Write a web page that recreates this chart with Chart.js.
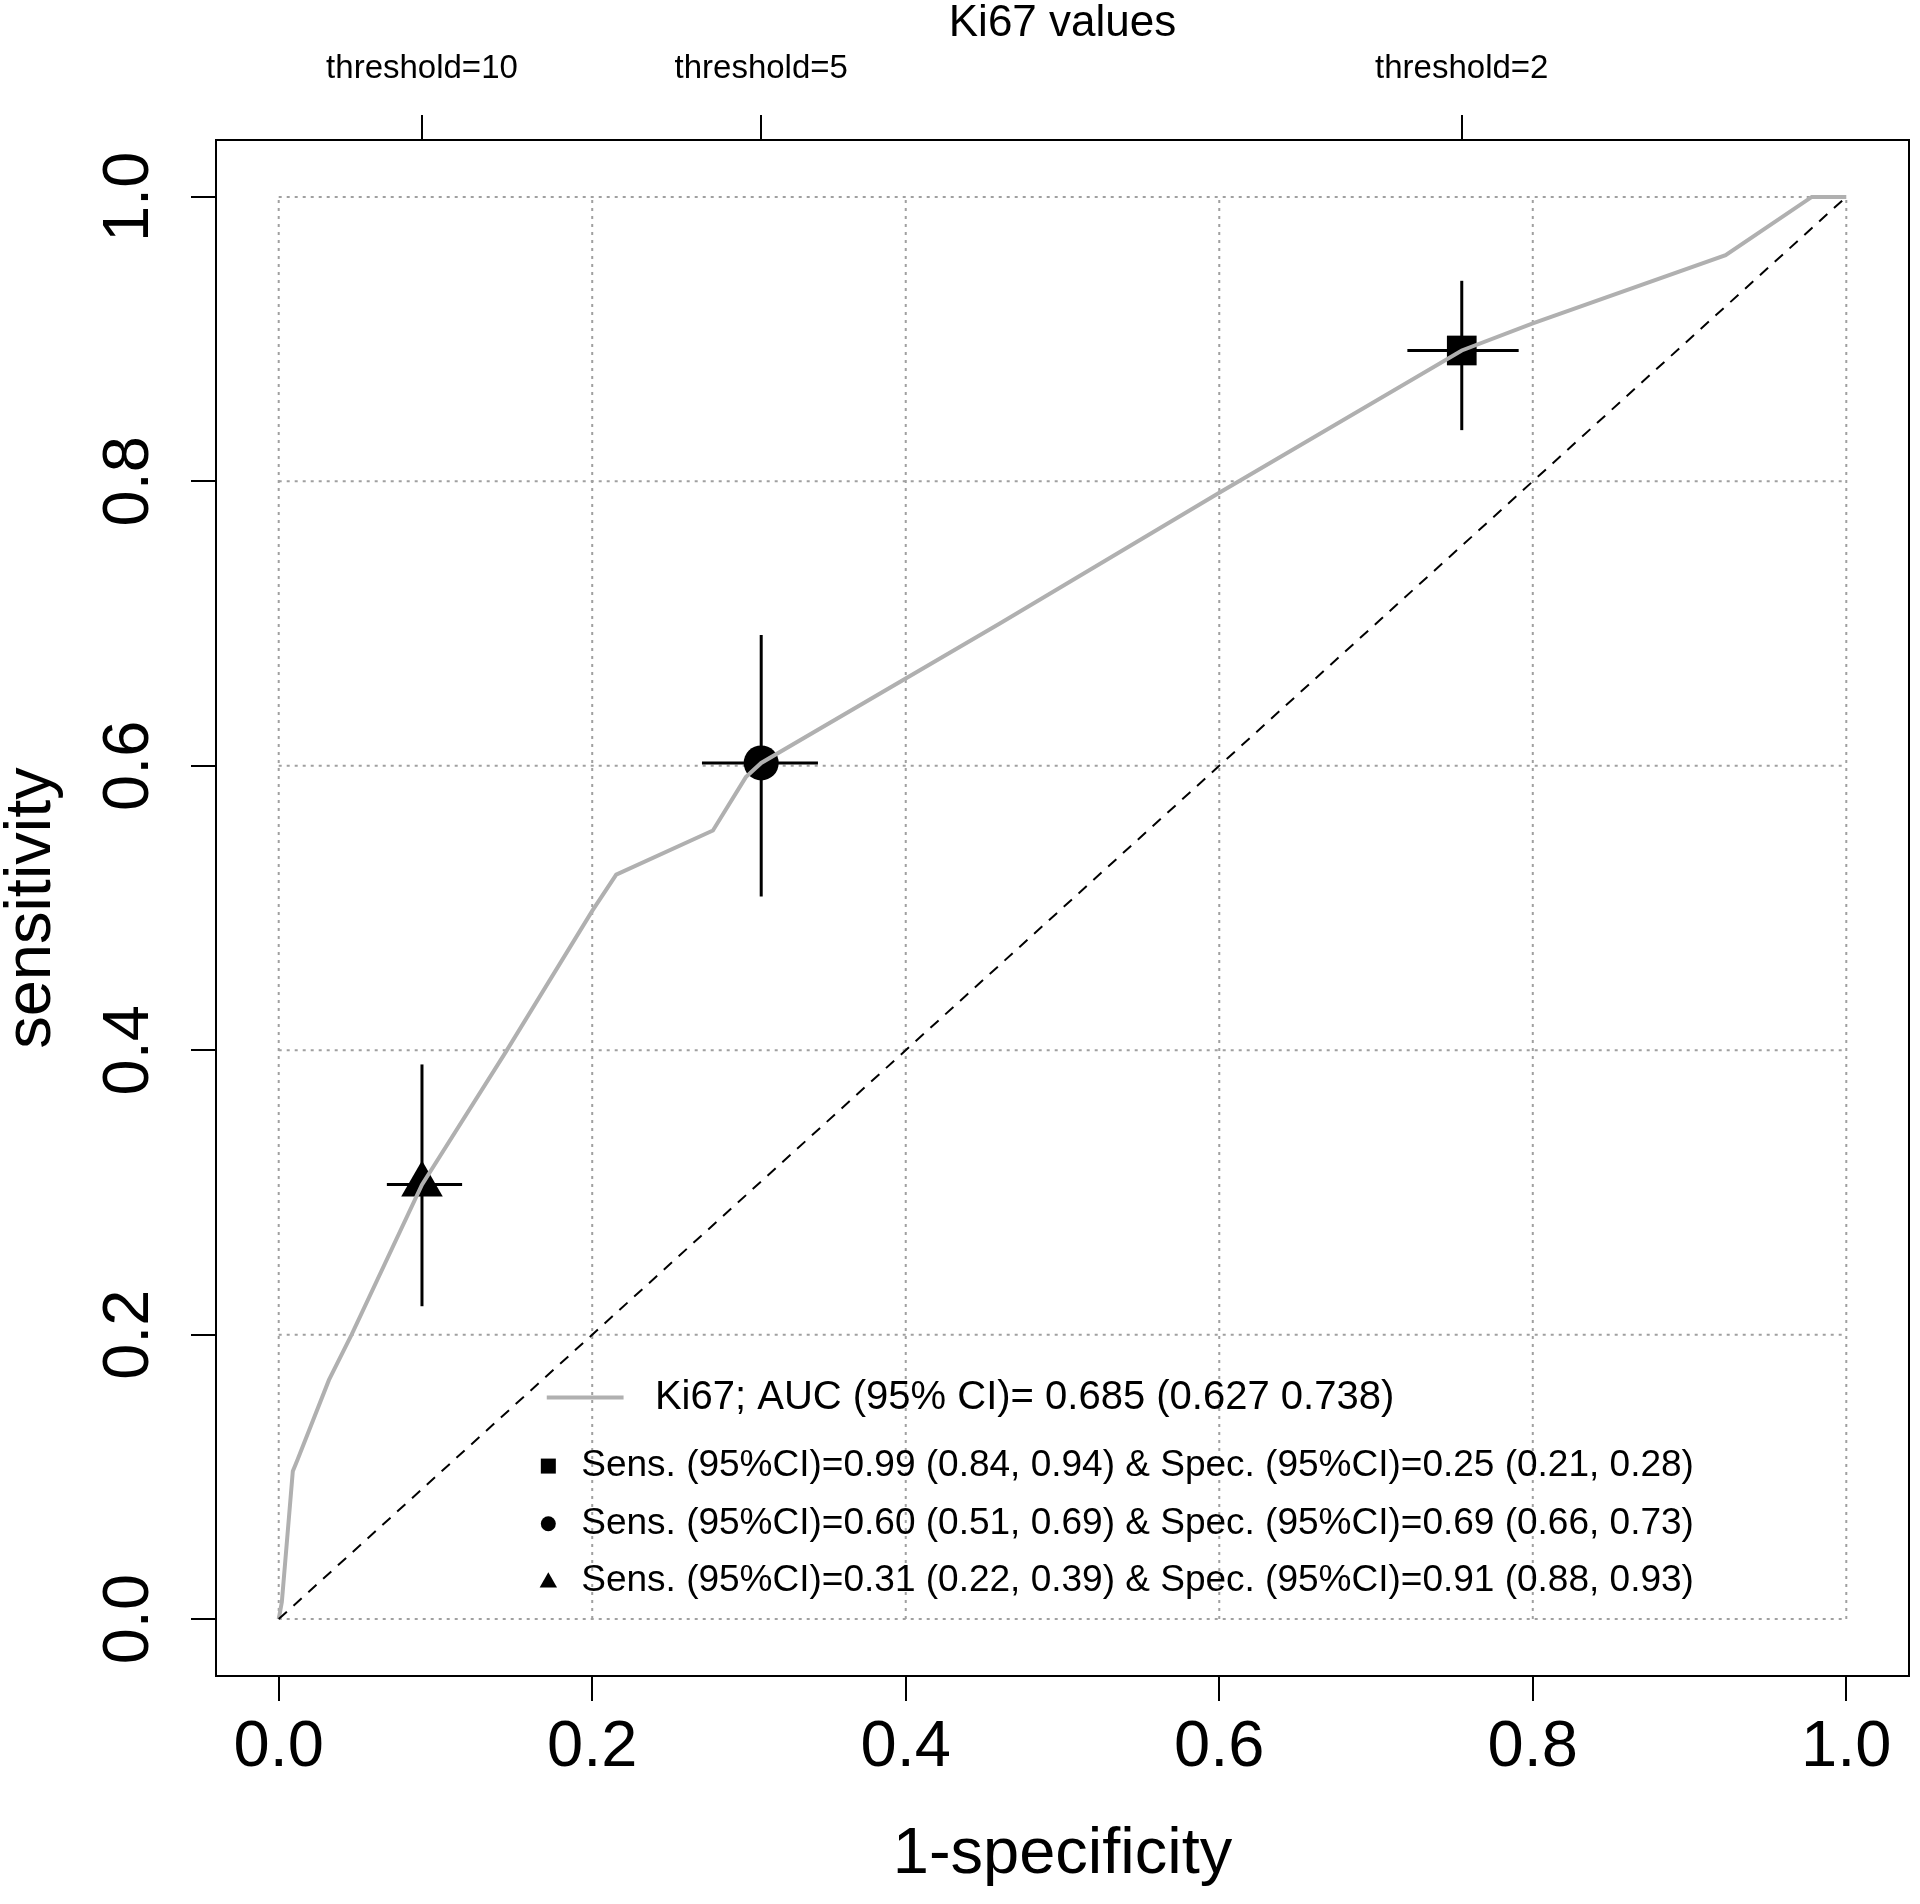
<!DOCTYPE html>
<html><head><meta charset="utf-8">
<style>html,body{margin:0;padding:0;background:#fff;overflow:hidden;} canvas{display:block;}</style>
<script src="https://cdn.jsdelivr.net/npm/chart.js@4.4.1/dist/chart.umd.min.js"></script>
</head><body>
<canvas id="c" width="1920" height="1904"></canvas>
<script>
// ROC curve (1-specificity vs sensitivity)
const rocFpr = [0, 0.002, 0.009, 0.012, 0.032, 0.0465, 0.0914, 0.145, 0.2, 0.2153, 0.277, 0.298, 0.3078, 0.46, 0.6, 0.7547, 0.8, 0.923, 0.978, 1.0];
const rocTpr = [0, 0.012, 0.104, 0.112, 0.168, 0.2, 0.3055, 0.399, 0.498, 0.5235, 0.5545, 0.592, 0.602, 0.700, 0.792, 0.892, 0.911, 0.959, 1.0, 1.0];
const chanceFpr = [0, 1];
const chanceTpr = [0, 1];

// threshold points with confidence intervals
const thresholdLabels = ['threshold=10', 'threshold=5', 'threshold=2'];
const thresholdFpr = [0.0914, 0.3078, 0.7547];
const thresholdSens = [0.3055, 0.602, 0.892];
const sensLo = [0.22, 0.508, 0.836];
const sensHi = [0.39, 0.692, 0.941];
const fprLo = [0.069, 0.270, 0.720];
const fprHi = [0.117, 0.344, 0.791];
const thresholdShapes = ['triangle', 'circle', 'rect'];

// axes
const xTicks = [0, 0.2, 0.4, 0.6, 0.8, 1.0];
const xTickLabels = ['0.0', '0.2', '0.4', '0.6', '0.8', '1.0'];
const yTicks = [0, 0.2, 0.4, 0.6, 0.8, 1.0];
const yTickLabels = ['0.0', '0.2', '0.4', '0.6', '0.8', '1.0'];
const xTitle = '1-specificity';
const yTitle = 'sensitivity';
const topTitle = 'Ki67 values';

// legend
const legendTitle = 'Ki67; AUC (95% CI)= 0.685 (0.627 0.738)';
const legendRows = [
  'Sens. (95%CI)=0.99 (0.84, 0.94) & Spec. (95%CI)=0.25 (0.21, 0.28)',
  'Sens. (95%CI)=0.60 (0.51, 0.69) & Spec. (95%CI)=0.69 (0.66, 0.73)',
  'Sens. (95%CI)=0.31 (0.22, 0.39) & Spec. (95%CI)=0.91 (0.88, 0.93)'
];
const legendShapes = ['rect', 'circle', 'triangle'];

const FONT = '"Liberation Sans", Arial, Helvetica, sans-serif';
const pts = (xs, ys) => xs.map((v, i) => ({x: v, y: ys[i]}));

const gridPlugin = {
  id: 'rgrid',
  beforeDatasetsDraw(chart) {
    const {ctx, scales: {x, y}} = chart;
    ctx.save();
    ctx.strokeStyle = '#a0a0a0'; ctx.lineWidth = 2; ctx.setLineDash([3, 5]);
    const xa = x.getPixelForValue(xTicks[0]), xb = x.getPixelForValue(xTicks[xTicks.length - 1]);
    const ya = y.getPixelForValue(yTicks[0]), yb = y.getPixelForValue(yTicks[yTicks.length - 1]);
    xTicks.forEach(v => { const p = x.getPixelForValue(v); ctx.beginPath(); ctx.moveTo(p, ya); ctx.lineTo(p, yb); ctx.stroke(); });
    yTicks.forEach(v => { const p = y.getPixelForValue(v); ctx.beginPath(); ctx.moveTo(xa, p); ctx.lineTo(xb, p); ctx.stroke(); });
    ctx.restore();
  },
  afterDraw(chart) {
    const {ctx, chartArea: a} = chart;
    ctx.save(); ctx.strokeStyle = '#000'; ctx.lineWidth = 2;
    ctx.strokeRect(a.left, a.top, a.right - a.left, a.bottom - a.top);
    ctx.restore();
  }
};

function drawShape(ctx, shape, cx, cy, s) {
  ctx.beginPath();
  if (shape === 'rect') ctx.rect(cx - s / 2, cy - s / 2, s, s);
  else if (shape === 'circle') ctx.arc(cx, cy, s / 2, 0, Math.PI * 2);
  else { ctx.moveTo(cx, cy - s * 0.6); ctx.lineTo(cx + s * 0.58, cy + s * 0.42); ctx.lineTo(cx - s * 0.58, cy + s * 0.42); ctx.closePath(); }
  ctx.fill();
}

const legendPlugin = {
  id: 'rlegend',
  afterDatasetsDraw(chart) {
    const {ctx, scales: {x, y}} = chart;
    ctx.save();
    ctx.fillStyle = '#000'; ctx.textBaseline = 'middle'; ctx.textAlign = 'left';
    const ly = y.getPixelForValue(0.1558);
    ctx.strokeStyle = '#b0b0b0'; ctx.lineWidth = 4;
    ctx.beginPath(); ctx.moveTo(x.getPixelForValue(0.171), ly); ctx.lineTo(x.getPixelForValue(0.220), ly); ctx.stroke();
    ctx.font = '40px ' + FONT;
    ctx.fillText(legendTitle, x.getPixelForValue(0.240), ly);
    const rowY = [0.1076, 0.0671, 0.0267];
    ctx.font = '37px ' + FONT;
    legendRows.forEach((t, i) => {
      const py = y.getPixelForValue(rowY[i]);
      drawShape(ctx, legendShapes[i], x.getPixelForValue(0.172), py, 15);
      ctx.fillText(t, x.getPixelForValue(0.193), py);
    });
    ctx.restore();
  }
};

const datasets = [
  {data: pts(chanceFpr, chanceTpr), showLine: true, borderColor: '#000', borderWidth: 2, borderDash: [11, 9], pointRadius: 0},
  {data: pts(rocFpr, rocTpr), showLine: true, borderColor: '#b0b0b0', borderWidth: 4, pointRadius: 0, tension: 0}
];
thresholdFpr.forEach((f, i) => {
  datasets.push({data: [{x: f, y: sensLo[i]}, {x: f, y: sensHi[i]}], showLine: true, borderColor: '#000', borderWidth: 3, pointRadius: 0});
  datasets.push({data: [{x: fprLo[i], y: thresholdSens[i]}, {x: fprHi[i], y: thresholdSens[i]}], showLine: true, borderColor: '#000', borderWidth: 3, pointRadius: 0});
});
datasets.push({
  data: pts(thresholdFpr, thresholdSens), showLine: false,
  pointStyle: thresholdShapes, pointRadius: [24, 17.5, 21],
  backgroundColor: '#000', borderColor: '#000', borderWidth: 0
});

const axisCommon = {
  min: -0.04, max: 1.04,
  grid: {display: true, drawOnChartArea: false, drawTicks: true, tickLength: 25, color: '#000', tickColor: '#000', lineWidth: 2, tickWidth: 2},
  border: {display: true, color: '#000', width: 2}
};
const fitX = h => s => { s.height = h; s.paddingLeft = 0; s.paddingRight = 0; };

new Chart(document.getElementById('c'), {
  type: 'scatter',
  data: {datasets},
  options: {
    responsive: false, animation: false, devicePixelRatio: 1,
    layout: {autoPadding: false, padding: {left: 0, right: 11, top: 0, bottom: 0}},
    plugins: {legend: {display: false}, tooltip: {enabled: false}},
    scales: {
      x: Object.assign({}, axisCommon, {
        type: 'linear', position: 'bottom',
        afterBuildTicks: s => { s.ticks = xTicks.map(v => ({value: v})); },
        ticks: {callback: (v, i) => xTickLabels[i], font: {size: 65, family: FONT}, color: '#000', padding: 8, autoSkip: false, maxRotation: 0},
        title: {display: true, text: xTitle, font: {size: 65, family: FONT}, color: '#000', padding: {top: 0, bottom: 10}},
        afterFit: fitX(228)
      }),
      x2: Object.assign({}, axisCommon, {
        type: 'linear', position: 'top',
        afterBuildTicks: s => { s.ticks = thresholdFpr.map(v => ({value: v})); },
        ticks: {callback: (v, i) => thresholdLabels[i], font: {size: 33, family: FONT}, color: '#000', padding: 26, autoSkip: false, maxRotation: 0},
        title: {display: true, text: topTitle, font: {size: 44, family: FONT, lineHeight: 1}, color: '#000', padding: {top: 2, bottom: 0}},
        afterFit: fitX(140)
      }),
      y: Object.assign({}, axisCommon, {
        type: 'linear', position: 'left',
        afterBuildTicks: s => { s.ticks = yTicks.map(v => ({value: v})); },
        ticks: {callback: (v, i) => yTickLabels[i], font: {size: 65, family: FONT}, color: '#000', padding: 16, autoSkip: false, minRotation: 90, maxRotation: 90, crossAlign: 'center'},
        title: {display: true, text: yTitle, font: {size: 65, family: FONT, lineHeight: 1}, color: '#000', padding: 0},
        afterFit: s => { s.width = 216; s.paddingTop = 0; s.paddingBottom = 0; }
      })
    }
  },
  plugins: [gridPlugin, legendPlugin]
});
</script>
</body></html>
